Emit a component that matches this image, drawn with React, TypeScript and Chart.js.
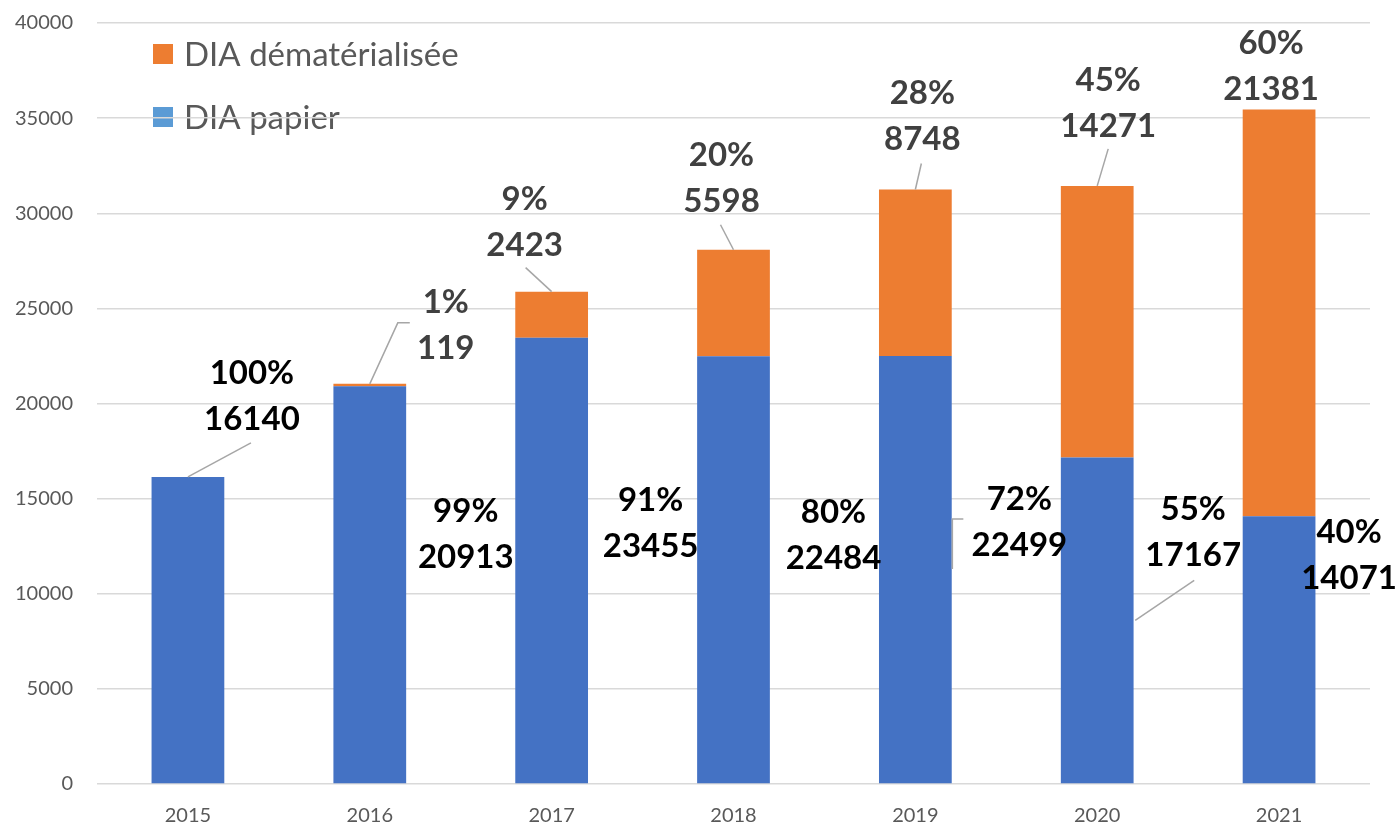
import React, { useEffect, useRef } from "react";
import { Chart, registerables } from "chart.js";

Chart.register(...registerables);

// ---- data ----
const years = ["2015", "2016", "2017", "2018", "2019", "2020", "2021"];
const papier = [16140, 20913, 23455, 22484, 22499, 17167, 14071];
const dematerialisee = [0, 119, 2423, 5598, 8748, 14271, 21381];
const seriesNames = ["DIA papier", "DIA dématérialisée"];
const yMin = 0;
const yMax = 40000;
const yStep = 5000;

// ---- label placement (pixel offsets from the top centre of each bar segment) ----
type LabelPos = { dx: number; dy: number; leader?: [number, number][] } | null;
const papierLabelPos: LabelPos[] = [
  { dx: 64, dy: -82, leader: [[0, 0], [63, -34]] },
  { dx: 96, dy: 147 },
  { dx: 99, dy: 184 },
  { dx: 100, dy: 178 },
  { dx: 104, dy: 165, leader: [[48, 163], [37, 163], [37, 213]] },
  { dx: 96, dy: 74, leader: [[38, 163], [97, 123]] },
  { dx: 70, dy: 38 },
];
const dematLabelPos: LabelPos[] = [
  null,
  { dx: 76, dy: -60, leader: [[0, 0], [28, -61], [40, -61]] },
  { dx: -27, dy: -71, leader: [[0, 0], [-26, -24]] },
  { dx: -12, dy: -73, leader: [[0, 0], [-13, -25]] },
  { dx: 7, dy: -75, leader: [[0, 0], [6, -26]] },
  { dx: 11, dy: -84, leader: [[0, 0], [11, -37]] },
  { dx: -8, dy: -45 },
];

const BLUE = "#4472C4";
const ORANGE = "#ED7D31";
const LEGEND_BLUE = "#5B9BD5";
const AXIS_TEXT = "#595959";

const labelPlugin = {
  id: "valueLabels",
  afterDatasetsDraw(chart: any) {
    const ctx = chart.ctx as CanvasRenderingContext2D;
    const sets = [
      { idx: 0, values: papier, pos: papierLabelPos, color: "#000000" },
      { idx: 1, values: dematerialisee, pos: dematLabelPos, color: "#404040" },
    ];
    ctx.save();
    ctx.strokeStyle = "#A6A6A6";
    ctx.lineWidth = 1.5;
    sets.forEach((s) => {
      const meta = chart.getDatasetMeta(s.idx);
      s.pos.forEach((p, i) => {
        if (!p || !p.leader) return;
        const el = meta.data[i];
        ctx.beginPath();
        p.leader.forEach(([lx, ly], k) => {
          if (k === 0) ctx.moveTo(el.x + lx, el.y + ly);
          else ctx.lineTo(el.x + lx, el.y + ly);
        });
        ctx.stroke();
      });
    });
    ctx.font = "bold 33px Lato";
    ctx.textAlign = "center";
    ctx.textBaseline = "alphabetic";
    sets.forEach((s) => {
      const meta = chart.getDatasetMeta(s.idx);
      s.pos.forEach((p, i) => {
        if (!p) return;
        const el = meta.data[i];
        const v = s.values[i];
        const total = papier[i] + dematerialisee[i];
        const pct = Math.round((v / total) * 100);
        const cx = el.x + p.dx;
        const cy = el.y + p.dy;
        ctx.fillStyle = s.color;
        ctx.fillText(pct + "%", cx, cy - 23 + 12);
        ctx.fillText(String(v), cx, cy + 23 + 12);
      });
    });
    ctx.restore();
  },
};

const legendPlugin = {
  id: "insideLegend",
  beforeDraw(chart: any) {
    const ctx = chart.ctx as CanvasRenderingContext2D;
    const a = chart.chartArea;
    const items = [
      { text: seriesNames[1], color: ORANGE },
      { text: seriesNames[0], color: LEGEND_BLUE },
    ];
    ctx.save();
    ctx.font = "33px Lato";
    ctx.textAlign = "left";
    ctx.textBaseline = "middle";
    items.forEach((it, k) => {
      const y = a.top + 31 + k * 63;
      ctx.fillStyle = it.color;
      ctx.fillRect(a.left + 56, y - 10, 20, 20);
      ctx.fillStyle = AXIS_TEXT;
      ctx.fillText(it.text, a.left + 87, y + 1);
    });
    ctx.restore();
  },
};

export default function App() {
  const canvasRef = useRef<HTMLCanvasElement | null>(null);

  useEffect(() => {
    document.body.style.margin = "0";
    const canvas = canvasRef.current;
    if (!canvas) return;
    const chart = new Chart(canvas, {
      type: "bar",
      data: {
        labels: years,
        datasets: [
          {
            label: seriesNames[0],
            data: papier,
            backgroundColor: BLUE,
            barPercentage: 0.4,
            categoryPercentage: 1,
          },
          {
            label: seriesNames[1],
            data: dematerialisee,
            backgroundColor: ORANGE,
            barPercentage: 0.4,
            categoryPercentage: 1,
          },
        ],
      },
      options: {
        animation: false,
        responsive: true,
        maintainAspectRatio: false,
        layout: { padding: { top: 23, right: 26, left: 0, bottom: 0 } },
        plugins: {
          legend: { display: false },
          tooltip: { enabled: false },
          title: { display: false },
        },
        scales: {
          x: {
            stacked: true,
            grid: { display: false, drawTicks: false },
            border: { display: false },
            ticks: {
              color: AXIS_TEXT,
              font: { family: "Lato", size: 20 },
              padding: 20,
            },
            afterFit: (s: any) => {
              s.height = 40;
            },
          },
          y: {
            stacked: true,
            min: yMin,
            max: yMax,
            ticks: {
              stepSize: yStep,
              color: AXIS_TEXT,
              font: { family: "Lato", size: 20 },
              padding: 24,
              callback: (v: any) => String(v),
            },
            grid: { color: "#D9D9D9", lineWidth: 1.5, drawTicks: false },
            border: { display: false },
            afterFit: (s: any) => {
              s.width = 97;
              s.paddingTop = 0;
              s.paddingBottom = 0;
            },
          },
        },
      },
      plugins: [labelPlugin, legendPlugin],
    });
    return () => chart.destroy();
  }, []);

  return (
    <div style={{ position: "relative", width: 1396, height: 824 }}>
      <canvas ref={canvasRef} />
    </div>
  );
}
